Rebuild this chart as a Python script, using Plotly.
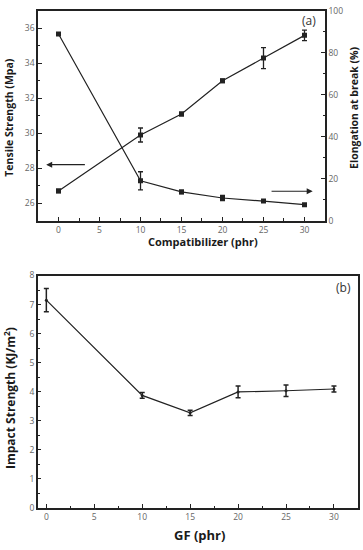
import plotly.graph_objects as go

# ---- data ----
compat = [0, 10, 15, 20, 25, 30]
tensile = [26.7, 29.9, 31.1, 33.0, 34.3, 35.6]
tensile_err = [0.1, 0.4, 0.1, 0.1, 0.6, 0.3]
elong = [89, 19, 13.7, 10.8, 9.3, 7.6]
elong_err = [0.5, 4.3, 0.8, 1.2, 0.6, 0.5]

gf = [0, 10, 15, 20, 25, 30]
impact = [7.15, 3.87, 3.27, 3.99, 4.03, 4.09]
impact_err = [0.4, 0.1, 0.09, 0.2, 0.2, 0.1]

LINE = "#222222"
TICKC = "#666666"
TICKFONT = dict(family="Open Sans", size=8.5, color=TICKC)
FONTFAM = "Open Sans"

fig = go.Figure()

fig.add_trace(go.Scatter(
    x=compat, y=tensile, mode="lines+markers", xaxis="x", yaxis="y",
    line=dict(color=LINE, width=1.2),
    marker=dict(symbol="square", size=5, color=LINE),
    error_y=dict(type="data", array=tensile_err, color=LINE, thickness=1.3, width=2.5),
    showlegend=False))
fig.add_trace(go.Scatter(
    x=compat, y=elong, mode="lines+markers", xaxis="x", yaxis="y2",
    line=dict(color=LINE, width=1.2),
    marker=dict(symbol="square", size=5, color=LINE),
    error_y=dict(type="data", array=elong_err, color=LINE, thickness=1.3, width=2.5),
    showlegend=False))
fig.add_trace(go.Scatter(
    x=gf, y=impact, mode="lines+markers", xaxis="x3", yaxis="y3",
    line=dict(color=LINE, width=1.2),
    marker=dict(symbol="circle", size=3, color=LINE),
    error_y=dict(type="data", array=impact_err, color=LINE, thickness=1.5, width=2.5),
    showlegend=False))

axis_common = dict(showgrid=False, zeroline=False, showline=True, linecolor=LINE,
                   linewidth=1.5, ticks="inside", ticklen=4, tickcolor=LINE,
                   tickfont=TICKFONT)


def title_ann(text, x, y, size, angle=0):
    return dict(text=text, x=x, y=y, xref="paper", yref="paper", showarrow=False,
                textangle=angle, xanchor="center", yanchor="middle",
                font=dict(family=FONTFAM, size=size, color="#1a1a1a", weight="bold"))


fig.update_layout(
    width=363, height=550,
    margin=dict(l=0, r=0, t=0, b=0),
    paper_bgcolor="white", plot_bgcolor="white",
    xaxis=dict(domain=[0.1047, 0.8953], anchor="y", range=[-2.5, 32.5],
               tickvals=[0, 5, 10, 15, 20, 25, 30], mirror=True,
               minor=dict(dtick=2.5, tick0=0, ticks="inside", ticklen=2.5, tickcolor=LINE),
               **axis_common),
    yaxis=dict(domain=[0.6018, 0.9909], anchor="x", range=[25, 37],
               tickvals=[26, 28, 30, 32, 34, 36],
               minor=dict(dtick=1, tick0=25, ticks="inside", ticklen=2.5, tickcolor=LINE),
               **axis_common),
    yaxis2=dict(overlaying="y", side="right", anchor="x", range=[0, 100],
                tickvals=[0, 20, 40, 60, 80, 100],
                minor=dict(dtick=10, tick0=0, ticks="inside", ticklen=2.5, tickcolor=LINE),
                **axis_common),
    xaxis3=dict(domain=[0.1039, 0.986], anchor="y3", range=[-0.9, 32.5],
                tickvals=[0, 5, 10, 15, 20, 25, 30], mirror=True,
                minor=dict(dtick=2.5, tick0=0, ticks="inside", ticklen=2.5, tickcolor=LINE),
                **axis_common),
    yaxis3=dict(domain=[0.0691, 0.5], anchor="x3", range=[0, 8],
                tickvals=[0, 1, 2, 3, 4, 5, 6, 7, 8], mirror=True,
                minor=dict(dtick=0.5, tick0=0, ticks="inside", ticklen=2.5, tickcolor=LINE),
                **axis_common),
    annotations=[
        title_ann("Tensile Strength (Mpa)", 9 / 363, 1 - 114 / 550, 10.5, -90),
        title_ann("Elongation at break (%)", 354 / 363, 1 - 104 / 550, 10.5, -90),
        title_ann("Compatibilizer (phr)", 203 / 363, 1 - 240 / 550, 11),
        title_ann("Impact Strength (KJ/m<sup>2</sup>)", 10 / 363, 1 - 400 / 550, 12, -90),
        title_ann("GF (phr)", 199 / 363, 1 - 540 / 550, 13),
        dict(text="(a)", x=30.5, y=95.5, xref="x", yref="y2", showarrow=False,
             font=dict(family=FONTFAM, size=12, color="#333333")),
        dict(text="(b)", x=31.0, y=7.6, xref="x3", yref="y3", showarrow=False,
             font=dict(family=FONTFAM, size=12, color="#333333")),
        dict(x=-1.5, y=28.2, ax=3.4, ay=28.2, xref="x", yref="y", axref="x", ayref="y",
             showarrow=True, arrowhead=2, arrowsize=1, arrowwidth=1.2, arrowcolor=LINE, text=""),
        dict(x=31.0, y=14, ax=25.8, ay=14, xref="x", yref="y2", axref="x", ayref="y2",
             showarrow=True, arrowhead=2, arrowsize=1, arrowwidth=1.2, arrowcolor=LINE, text=""),
    ],
)

fig.write_html("out.html", config={"displayModeBar": False},
               post_script="document.body.style.margin='0';document.body.style.overflow='hidden';")
